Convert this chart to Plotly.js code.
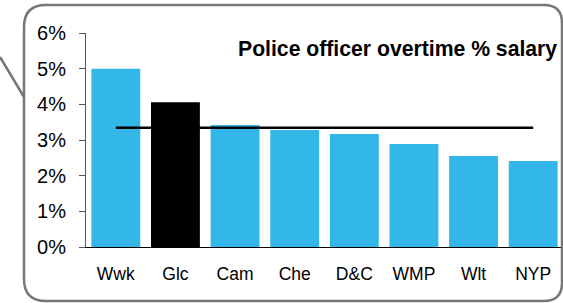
<!DOCTYPE html>
<html>
<head>
<meta charset="utf-8">
<script src="https://cdn.plot.ly/plotly-3.0.1.min.js"></script>
<style>
html,body{margin:0;padding:0;background:#fff;}
#chart{width:563px;height:303px;}
</style>
</head>
<body>
<div id="chart"></div>
<script>
// Data
var categories = ["Wwk", "Glc", "Cam", "Che", "D&C", "WMP", "Wlt", "NYP"];
var overtimePct = [5.0, 4.06, 3.42, 3.28, 3.17, 2.89, 2.55, 2.41];
var highlight = "Glc";
var averagePct = 3.34;
var yTicks = [0, 1, 2, 3, 4, 5, 6];
var titleText = "Police officer overtime % salary";

// Styling
var W = 563, H = 303;
var L = 86, R = 0, T = 33, B = 56;
var pw = W - L - R, ph = H - T - B;
function fx(px){ return (px - L) / pw; }
function fy(py){ return (H - B - py) / ph; }

var blue = "#33B7E8";
var colors = categories.map(function(c){ return c === highlight ? "#000000" : blue; });

var bars = {
  type: "bar",
  x: categories,
  y: overtimePct,
  marker: {color: colors, line: {width: 0}},
  hoverinfo: "skip",
  showlegend: false
};
var avgLine = {
  type: "scatter",
  mode: "lines",
  x: categories,
  y: categories.map(function(){ return averagePct; }),
  line: {color: "#000000", width: 2.5},
  hoverinfo: "skip",
  showlegend: false
};

// rounded border path (pixel -> paper)
function P(x, y){ return fx(x).toFixed(5) + "," + fy(y).toFixed(5); }
var x0 = 24, x1 = 562, y0 = 5, y1 = 301, r1 = 22, r2 = 18;
var border = "M" + P(x0, y0 + r1) +
  " Q" + P(x0, y0) + " " + P(x0 + r1, y0) +
  " L" + P(x1 - r2, y0) +
  " Q" + P(x1, y0) + " " + P(x1, y0 + r2) +
  " L" + P(x1, y1 - r2) +
  " Q" + P(x1, y1) + " " + P(x1 - r2, y1) +
  " L" + P(x0 + r1, y1) +
  " Q" + P(x0, y1) + " " + P(x0, y1 - r1) + " Z";

var layout = {
  width: W, height: H,
  margin: {l: L, r: R, t: T, b: B, pad: 0},
  paper_bgcolor: "#ffffff",
  plot_bgcolor: "rgba(0,0,0,0)",
  font: {family: "Liberation Sans, Arial, sans-serif", color: "#000", size: 16},
  bargap: 0.18,
  xaxis: {
    type: "category",
    showline: true, linecolor: "#000", linewidth: 1,
    ticks: "", showgrid: false, zeroline: false,
    tickfont: {size: 17.5}, ticklabelstandoff: 11,
    fixedrange: true
  },
  yaxis: {
    range: [0, 6],
    tickvals: yTicks,
    ticktext: yTicks.map(function(v){ return v + "%"; }),
    showline: true, linecolor: "#555", linewidth: 1,
    ticks: "outside", ticklen: 6, tickcolor: "#555",
    showgrid: false, zeroline: false,
    tickfont: {size: 20}, ticklabelstandoff: 9,
    fixedrange: true
  },
  annotations: [{
    xref: "paper", yref: "paper",
    x: fx(559), y: fy(48.5),
    xanchor: "right", yanchor: "middle",
    text: "<b>" + titleText + "</b>",
    showarrow: false,
    font: {size: 21.2, color: "#000"}
  }],
  shapes: [
    {type: "path", xref: "paper", yref: "paper", path: border,
     line: {color: "#777", width: 2.5}, fillcolor: "rgba(0,0,0,0)", layer: "above"},
    {type: "line", xref: "paper", yref: "paper",
     x0: fx(0), y0: fy(57), x1: fx(24), y1: fy(97),
     line: {color: "#777", width: 2.5}, layer: "above"}
  ]
};

Plotly.newPlot("chart", [bars, avgLine], layout, {staticPlot: true, displayModeBar: false});
</script>
</body>
</html>
